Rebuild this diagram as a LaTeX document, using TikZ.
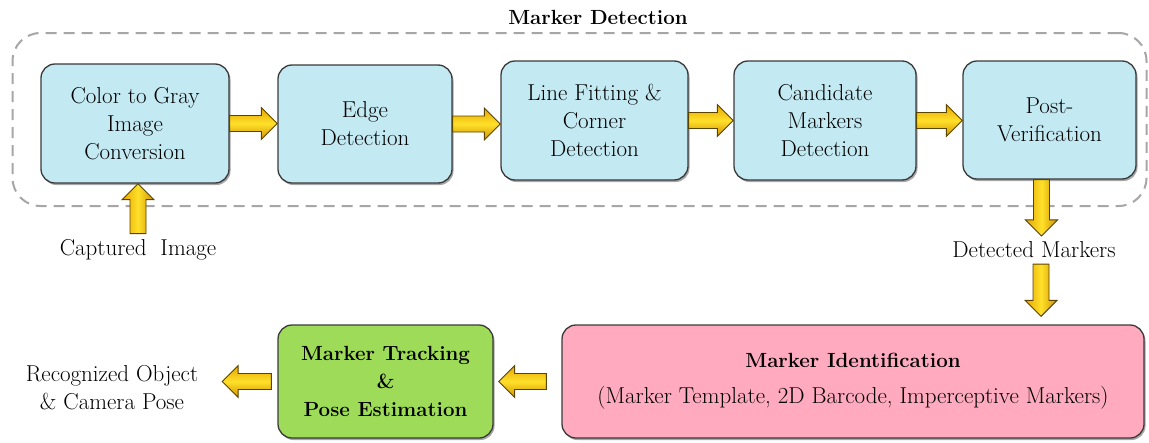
\documentclass[tikz,border=0pt]{standalone}
\usepackage{fontspec}
\usetikzlibrary{calc,shadows}
\definecolor{boxblue}{HTML}{C3E9F2}
\definecolor{boxpink}{HTML}{FFAABE}
\definecolor{boxgreen}{HTML}{9EDB58}
\definecolor{boxline}{HTML}{3A3A3A}
\definecolor{framegray}{HTML}{A6A6A6}
\definecolor{goldA}{HTML}{E5A500}
\definecolor{goldB}{HTML}{FFE02A}
\definecolor{goldC}{HTML}{D09200}
\definecolor{goldline}{HTML}{5A4400}
\tikzset{
  txt/.style={font=\fontsize{23}{28}\selectfont, align=center},
  stage/.style={txt, draw=boxline, line width=1.3pt, rounded corners=14pt,
    fill=boxblue, inner sep=2pt,
    drop shadow={shadow xshift=1.5pt, shadow yshift=-2pt, opacity=0.35, fill=black}},
  idbox/.style={stage, fill=boxpink},
  trackbox/.style={stage, fill=boxgreen},
  frame/.style={draw=framegray, line width=2pt, dash pattern=on 11pt off 7pt,
    rounded corners=28pt, inner sep=0pt},
  lbl/.style={txt, inner sep=2pt, outer sep=4pt},
  harrowstyle/.style={draw=goldline, line width=0.9pt, line join=miter,
    top color=goldA, bottom color=goldC, middle color=goldB},
  varrowstyle/.style={draw=goldline, line width=0.9pt, line join=miter,
    left color=goldA, right color=goldC, middle color=goldB},
}
\newcommand\bff[1]{{\fontsize{20.5}{28}\selectfont\bfseries #1}}
% horizontal block arrow: from #1 to tip at x of #2, at height of #1
\newcommand\hfat[2]{%
  \path[harrowstyle] let \p1=(#1), \p2=(#2), \n1={16*sign(\x2-\x1)} in
    (\x1,{\y1+8pt}) -- ({\x2-(\n1)*1pt},{\y1+8pt}) -- ({\x2-(\n1)*1pt},{\y1+16pt})
    -- (\x2,\y1) -- ({\x2-(\n1)*1pt},{\y1-16pt}) -- ({\x2-(\n1)*1pt},{\y1-8pt})
    -- (\x1,{\y1-8pt}) -- cycle;}
% vertical block arrow: from #1 to tip at y of #2, at x of #1
\newcommand\vfat[2]{%
  \path[varrowstyle] let \p1=(#1), \p2=(#2), \n1={16*sign(\y2-\y1)} in
    ({\x1-8pt},\y1) -- ({\x1-8pt},{\y2-(\n1)*1pt}) -- ({\x1-16pt},{\y2-(\n1)*1pt})
    -- (\x1,\y2) -- ({\x1+16pt},{\y2-(\n1)*1pt}) -- ({\x1+8pt},{\y2-(\n1)*1pt})
    -- ({\x1+8pt},\y1) -- cycle;}
\begin{document}
\begin{tikzpicture}[x=1pt,y=-1pt]
\useasboundingbox (0,0) rectangle (1149,442);
% frame and title
\node[frame, minimum width=1134pt, minimum height=173pt] (md) at (579.5,119.5) {};
\node[txt] (title) at (598,17) {\bff{Marker Detection}};
% stages
\node[stage, minimum width=188pt, minimum height=119pt] (b1) at (135,123.5) {Color to Gray\\Image\\Conversion};
\node[stage, minimum width=174pt, minimum height=118pt] (b2) at (365,124) {Edge\\Detection};
\node[stage, minimum width=187pt, minimum height=119pt] (b3) at (594.5,120.5) {Line Fitting \&\\Corner\\Detection};
\node[stage, minimum width=182pt, minimum height=119pt] (b4) at (825,120.5) {Candidate\\Markers\\Detection};
\node[stage, minimum width=173pt, minimum height=118pt] (b5) at (1049.5,120) {Post-\\Verification};
% labels
\node[lbl] (cap) at (138,250) {Captured~~Image};
\node[lbl] (det) at (1034,250) {Detected Markers};
\node[lbl] (rec) at (112,388) {Recognized Object\\\& Camera Pose};
% bottom boxes
\node[idbox, minimum width=582pt, minimum height=113pt] (mi) at (853,381.5)
  {\bff{Marker Identification}\\[8pt](Marker Template, 2D Barcode, Imperceptive Markers)};
\node[trackbox, minimum width=215pt, minimum height=113pt] (gr) at (385.5,381.5)
  {\bff{Marker Tracking}\\\bff{\&}\\\bff{Pose Estimation}};
% arrows
\hfat{b1.east}{b2.west}
\hfat{b2.east}{b3.west}
\hfat{b3.east}{b4.west}
\hfat{b4.east}{b5.west}
\vfat{cap.north}{b1.south}
\vfat{[xshift=-8pt]b5.south}{det.north}
\vfat{[xshift=7pt]det.south}{[yshift=8pt]mi.north}
\hfat{[xshift=-15pt]mi.west}{[xshift=5pt]gr.east}
\hfat{[xshift=-6pt]gr.west}{[xshift=18pt]rec.east}
\end{tikzpicture}
\end{document}
